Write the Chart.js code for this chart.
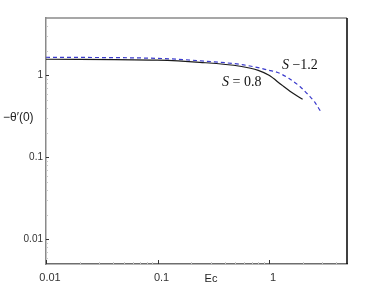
<!DOCTYPE html>
<html>
<head>
<meta charset="utf-8">
<script src="https://cdn.jsdelivr.net/npm/chart.js@4/dist/chart.umd.min.js"></script>
<style>
html,body{margin:0;padding:0;background:#fff;}
#wrap{width:373px;height:301px;position:relative;}
</style>
</head>
<body>
<div id="wrap"><canvas id="c" width="373" height="301"></canvas></div>
<script>
// Data
const ecS08 = [0.01, 0.1, 0.24, 0.55, 0.8, 1.0, 1.3, 1.54, 2.0];
const thetaS08 = [1.57, 1.53, 1.44, 1.29, 1.15, 1.0, 0.76, 0.64, 0.51];
const ecS12 = [0.01, 0.1, 0.3, 0.55, 0.8, 1.0, 1.18, 1.5, 1.89, 2.3, 2.57, 2.91];
const thetaS12 = [1.66, 1.61, 1.47, 1.36, 1.24, 1.15, 1.09, 0.92, 0.73, 0.56, 0.47, 0.36];
const xTicks = [0.01, 0.1, 1];
const yTicks = [0.01, 0.1, 1];
const xTickLabels = ["0.01", "0.1", "1"];
const yTickLabels = ["0.01", "0.1", "1"];
const xRange = [0.01, 5];
const yRange = [0.005, 5];
const labelS = ["S", "S"];
const labelRest = [" = 0.8", " \u22121.2"];
const labelPos = [[0.57, 0.82], [1.89, 1.32]]; // data coords for annotations (centre)
const xTitle = "Ec";
const yTitle = "\u2212\u03B8\u2032(0)";

const toPts = (xs, ys) => xs.map((x, i) => ({x: x, y: ys[i]}));

const decor = {
  id: 'decor',
  afterDraw(chart) {
    const ctx = chart.ctx, a = chart.chartArea;
    const xs = chart.scales.x, ys = chart.scales.y;
    ctx.save();
    // top and right frame
    ctx.lineWidth = 1.5;
    ctx.strokeStyle = '#8a8a8a';
    ctx.beginPath(); ctx.moveTo(a.left, a.top); ctx.lineTo(a.right, a.top); ctx.stroke();
    ctx.strokeStyle = '#000';
    ctx.beginPath(); ctx.moveTo(a.right, a.top); ctx.lineTo(a.right, a.bottom); ctx.stroke();
    // minor ticks (faint)
    ctx.lineWidth = 1;
    ctx.strokeStyle = '#c8c8c8';
    for (let d = 0.01; d < 10; d *= 10) {
      for (let k = 2; k <= 9; k++) {
        const v = d * k;
        if (v > xRange[0] && v < xRange[1]) {
          const px = Math.round(xs.getPixelForValue(v)) + 0.5;
          ctx.beginPath(); ctx.moveTo(px, a.bottom); ctx.lineTo(px, a.bottom - 2); ctx.stroke();
        }
      }
    }
    for (let d = 0.001; d < 10; d *= 10) {
      for (let k = 2; k <= 9; k++) {
        const v = d * k;
        if (v > yRange[0] && v < yRange[1]) {
          const py = Math.round(ys.getPixelForValue(v)) + 0.5;
          ctx.beginPath(); ctx.moveTo(a.left, py); ctx.lineTo(a.left + 2, py); ctx.stroke();
        }
      }
    }
    // major ticks (inward)
    ctx.strokeStyle = '#333';
    xTicks.forEach(v => {
      const px = Math.round(xs.getPixelForValue(v)) + 0.5;
      ctx.beginPath(); ctx.moveTo(px, a.bottom); ctx.lineTo(px, a.bottom - 4); ctx.stroke();
    });
    yTicks.forEach(v => {
      const py = Math.round(ys.getPixelForValue(v)) + 0.5;
      ctx.beginPath(); ctx.moveTo(a.left, py); ctx.lineTo(a.left + 3, py); ctx.stroke();
    });
    // series annotations: italic S + upright rest
    ctx.fillStyle = '#111';
    ctx.textBaseline = 'middle';
    ctx.textAlign = 'left';
    const fI = 'italic 14px "Liberation Serif", "DejaVu Serif", serif';
    const fU = '14px "Liberation Serif", "DejaVu Serif", serif';
    labelS.forEach((s, i) => {
      ctx.font = fI; const w1 = ctx.measureText(s).width;
      ctx.font = fU; const w2 = ctx.measureText(labelRest[i]).width;
      const cx = xs.getPixelForValue(labelPos[i][0]);
      const cy = ys.getPixelForValue(labelPos[i][1]);
      const x0 = cx - (w1 + w2) / 2;
      ctx.font = fI; ctx.fillText(s, x0, cy);
      ctx.font = fU; ctx.fillText(labelRest[i], x0 + w1, cy);
    });
    // axis titles
    ctx.font = '12px "Liberation Sans", Arial, sans-serif';
    ctx.fillStyle = '#222';
    ctx.textAlign = 'left';
    ctx.fillText(yTitle, 3, 118);
    ctx.font = '11px "Liberation Sans", Arial, sans-serif';
    ctx.textAlign = 'center';
    ctx.fillText(xTitle, 211, 279);
    ctx.restore();
  }
};

new Chart(document.getElementById('c'), {
  type: 'scatter',
  data: {
    datasets: [
      {
        label: 'S = 0.8',
        data: toPts(ecS08, thetaS08),
        showLine: true,
        borderColor: '#1a1a1a',
        borderWidth: 1.2,
        pointRadius: 0,
        cubicInterpolationMode: 'monotone'
      },
      {
        label: 'S = 1.2',
        data: toPts(ecS12, thetaS12),
        showLine: true,
        borderColor: '#3a3acc',
        borderWidth: 1.2,
        borderDash: [4, 3],
        pointRadius: 0,
        cubicInterpolationMode: 'monotone'
      }
    ]
  },
  options: {
    responsive: false,
    animation: false,
    devicePixelRatio: 1,
    layout: {padding: {top: 18, right: 26, left: 0, bottom: 0}},
    plugins: {legend: {display: false}, tooltip: {enabled: false}},
    scales: {
      x: {
        type: 'logarithmic',
        min: xRange[0], max: xRange[1],
        afterBuildTicks: s => { s.ticks = xTicks.map(v => ({value: v})); },
        afterFit: s => { s.height = 37; },
        ticks: {
          autoSkip: false, maxRotation: 0,
          padding: 7,
          color: '#333',
          font: {family: '"Liberation Sans", Arial, sans-serif', size: 11},
          labelOffset: 4,
          callback: (v) => { const i = xTicks.indexOf(v); return i >= 0 ? xTickLabels[i] : ''; }
        },
        grid: {display: true, drawOnChartArea: false, drawTicks: false, color: 'rgba(0,0,0,0)'},
        border: {display: true, color: '#6e6e6e', width: 1.5}
      },
      y: {
        type: 'logarithmic',
        min: yRange[0], max: yRange[1],
        afterBuildTicks: s => { s.ticks = yTicks.map(v => ({value: v})); },
        afterFit: s => { s.width = 46; },
        ticks: {
          autoSkip: false,
          padding: 3,
          color: '#333',
          font: {family: '"Liberation Sans", Arial, sans-serif', size: 10},
          callback: (v) => { const i = yTicks.indexOf(v); return i >= 0 ? yTickLabels[i] : ''; }
        },
        grid: {display: true, drawOnChartArea: false, drawTicks: false, color: 'rgba(0,0,0,0)'},
        border: {display: true, color: '#8a8a8a', width: 1.5}
      }
    }
  },
  plugins: [decor]
});
</script>
</body>
</html>
